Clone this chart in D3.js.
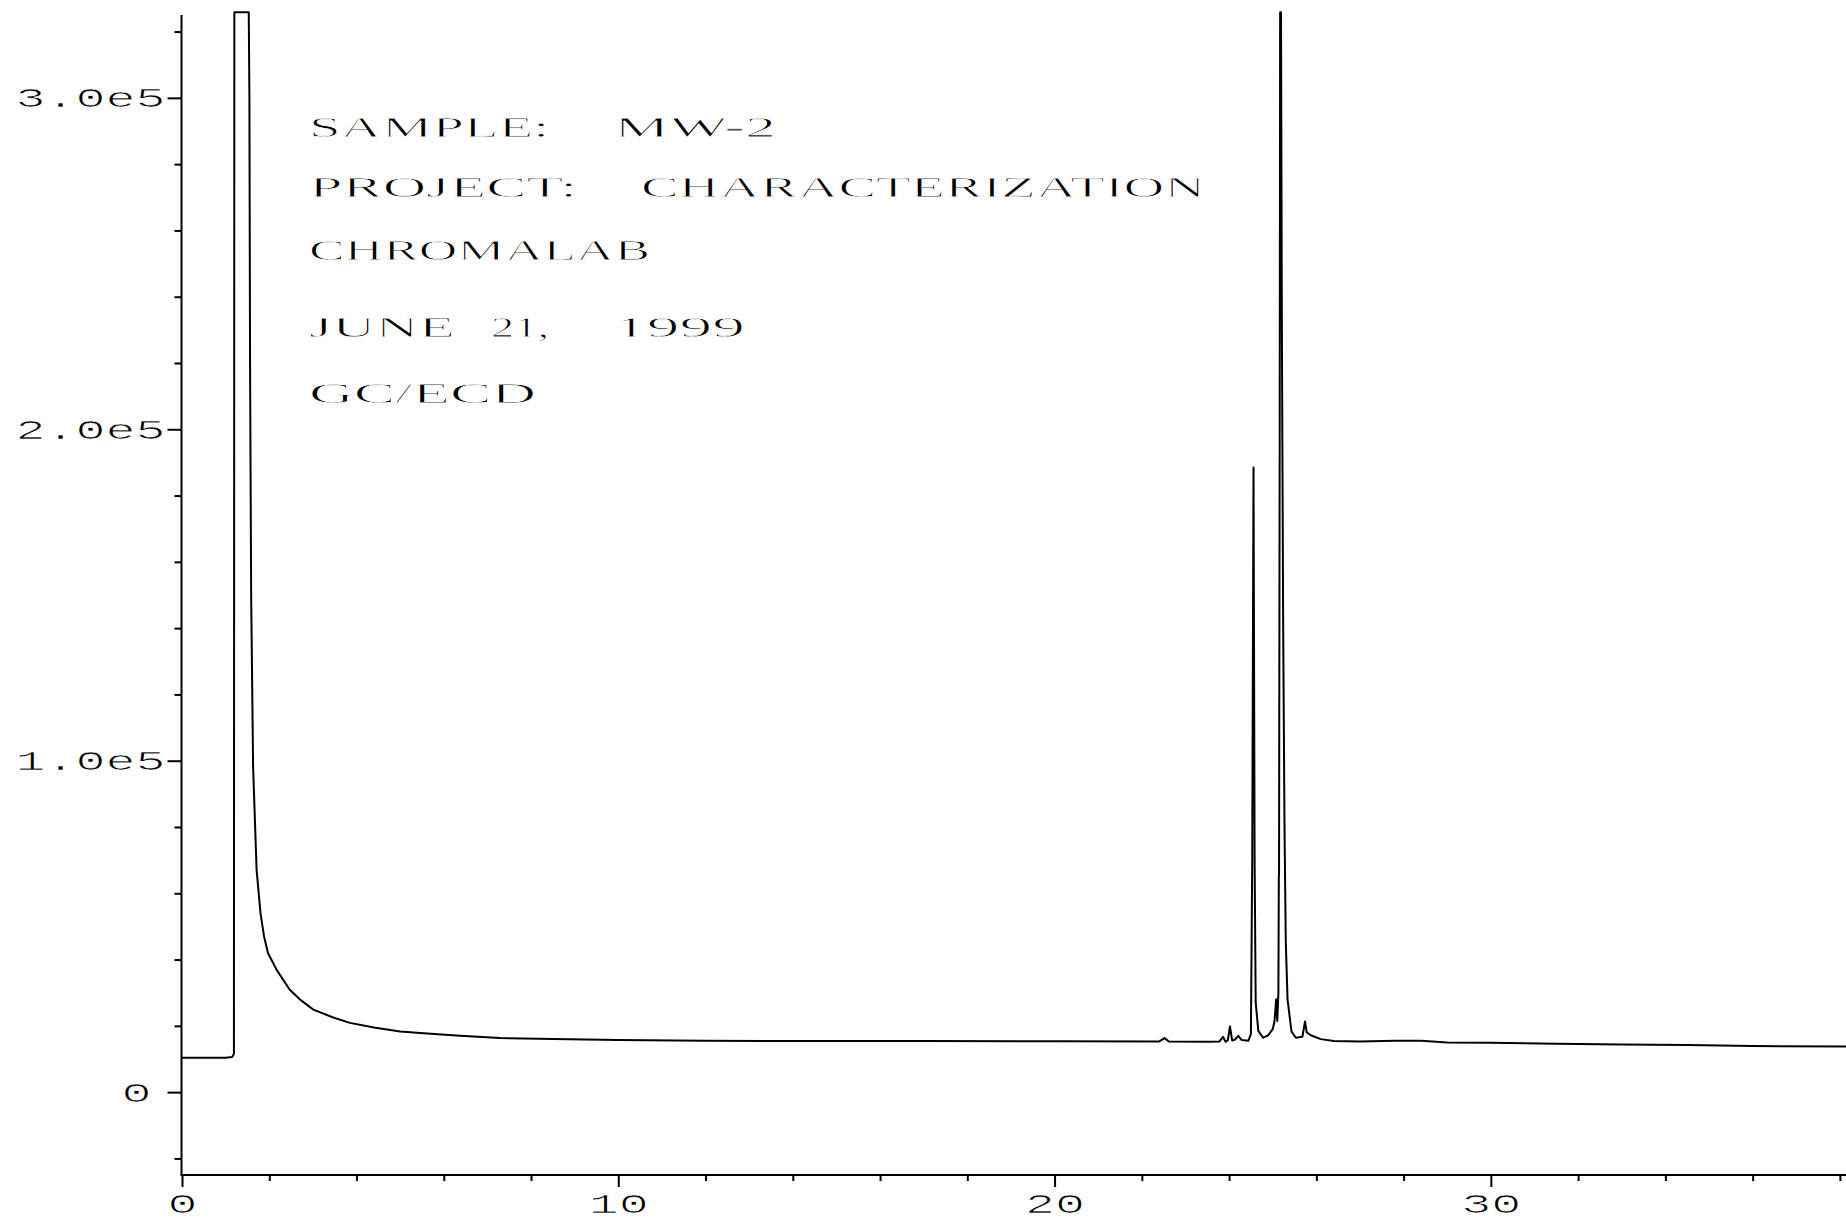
<!DOCTYPE html>
<html><head><meta charset="utf-8">
<script src="https://cdn.jsdelivr.net/npm/d3@7"></script>
<style>html,body{margin:0;padding:0;background:#fff;} svg{display:block;}</style>
</head><body><svg id="chart" width="1846" height="1220"></svg>
<script>
// ---- data ----
const retentionTime = [0, 1.0, 1.15, 1.19, 1.20, 1.53, 1.545, 1.56, 1.585, 1.63, 1.71, 1.80, 1.88, 1.97, 2.17, 2.47, 2.70, 3.01, 3.45, 3.85, 4.40, 5.00, 5.70, 6.37, 7.29, 8.50, 10.0, 12.0, 14.0, 17.0, 20.0, 22.4, 22.52, 22.62, 23.5, 23.78, 23.86, 23.92, 23.97, 24.02, 24.07, 24.13, 24.21, 24.29, 24.44, 24.50, 24.53, 24.56, 24.585, 24.61, 24.67, 24.78, 24.90, 25.00, 25.04, 25.08, 25.105, 25.13, 25.14, 25.145, 25.16, 25.17, 25.19, 25.21, 25.24, 25.27, 25.30, 25.34, 25.43, 25.53, 25.68, 25.74, 25.78, 25.90, 26.10, 26.40, 27.0, 27.8, 28.4, 29.0, 30.0, 31.5, 33.0, 34.5, 36.0, 38.14];
const response = [10400, 10400, 10600, 11500, 325800, 325800, 300000, 220000, 150000, 98000, 67000, 54000, 47000, 42000, 36900, 30900, 28000, 24900, 22600, 20900, 19500, 18300, 17600, 17000, 16300, 16000, 15700, 15500, 15400, 15400, 15350, 15300, 16300, 15300, 15200, 15300, 16700, 15200, 15600, 19800, 15600, 15800, 17000, 15700, 15500, 17500, 70000, 188500, 70000, 27000, 18500, 16400, 17200, 19000, 21300, 28000, 21500, 30000, 65000, 66000, 200000, 325800, 325800, 230000, 140000, 80000, 45000, 28000, 18300, 16400, 16700, 21300, 18000, 17000, 16000, 15400, 15300, 15500, 15500, 15000, 14900, 14600, 14400, 14200, 13900, 13800];

const xTickValues = [0, 10, 20, 30];
const xTickLabels = ["0", "10", "20", "30"];
const xMinorTicks = [2, 4, 6, 8, 12, 14, 16, 18, 22, 24, 26, 28, 32, 34, 36, 38];
const yTickValues = [0, 100000, 200000, 300000];
const yTickLabels = ["0", "1.0e5", "2.0e5", "3.0e5"];
const yMinorTicks = [-20000, 20000, 40000, 60000, 80000, 120000, 140000, 160000, 180000, 220000, 240000, 260000, 280000, 320000];

const annotationTexts = ["SAMPLE:", "MW-2", "PROJECT:", "CHARACTERIZATION", "CHROMALAB", "JUNE", "21,", "1999", "GC/ECD"];

// ---- layout ----
const annotationLayout = [
  {x: 309, y: 137, w: 240}, {x: 614, y: 137, w: 162},
  {x: 309, y: 197, w: 268}, {x: 641, y: 197, w: 564},
  {x: 309, y: 260, w: 341},
  {x: 309, y: 337, w: 146}, {x: 491, y: 337, w: 58}, {x: 614, y: 337, w: 131},
  {x: 309, y: 403, w: 227}
];

const svg = d3.select("#chart");
svg.append("rect").attr("width", 1846).attr("height", 1220).attr("fill", "#fff");

const x = d3.scaleLinear().domain([0, 38.14]).range([182, 1846]);
const y = d3.scaleLinear().domain([-25000, 325000]).range([1175, 15]);

const ink = "#000";

// Y axis
const yG = svg.append("g").attr("transform", `translate(${x(0) - 0.5},0)`);
yG.call(d3.axisLeft(y).tickValues(yMinorTicks).tickSize(7).tickSizeOuter(0).tickFormat(""));
yG.call(g => g.select(".domain").remove());
const yG2 = svg.append("g").attr("transform", `translate(${x(0) - 0.5},0)`);
yG2.call(d3.axisLeft(y).tickValues(yTickValues).tickSize(14).tickSizeOuter(0)
  .tickFormat((d, i) => yTickLabels[i]));
yG2.select(".domain").remove();
svg.selectAll("g .tick line").attr("stroke", ink).attr("stroke-width", 2);
yG2.selectAll(".tick text")
  .attr("x", (d, i) => yTickLabels[i] === "0" ? -30 : -16)
  .attr("dy", "0.33em")
  .attr("font-family", "'Liberation Mono', monospace")
  .attr("font-size", 27)
  .attr("fill", ink)
  .attr("stroke", "#fff").attr("stroke-width", 0.7)
  .attr("text-anchor", "end")
  .attr("textLength", (d, i) => yTickLabels[i].length * 30)
  .attr("lengthAdjust", "spacingAndGlyphs");
svg.append("line").attr("x1", x(0) - 0.5).attr("x2", x(0) - 0.5)
  .attr("y1", y(325000)).attr("y2", y(-25000))
  .attr("stroke", ink).attr("stroke-width", 2);

// X axis
const xG = svg.append("g").attr("transform", `translate(0,${y(-25000)})`);
xG.call(d3.axisBottom(x).tickValues(xMinorTicks).tickSize(6).tickSizeOuter(0).tickFormat(""));
xG.select(".domain").remove();
const xG2 = svg.append("g").attr("transform", `translate(0,${y(-25000)})`);
xG2.call(d3.axisBottom(x).tickValues(xTickValues).tickSize(12).tickSizeOuter(0)
  .tickFormat((d, i) => xTickLabels[i]));
xG2.select(".domain").remove();
svg.selectAll("g .tick line").attr("stroke", ink).attr("stroke-width", 2);
xG2.selectAll(".tick text")
  .attr("y", 38).attr("dy", 0)
  .attr("font-family", "'Liberation Mono', monospace")
  .attr("font-size", 27)
  .attr("fill", ink)
  .attr("stroke", "#fff").attr("stroke-width", 0.7)
  .attr("text-anchor", "middle")
  .attr("textLength", (d, i) => xTickLabels[i].length * 30)
  .attr("lengthAdjust", "spacingAndGlyphs");
svg.append("line").attr("x1", x(0) - 1.5).attr("x2", 1846)
  .attr("y1", y(-25000)).attr("y2", y(-25000))
  .attr("stroke", ink).attr("stroke-width", 2);

// Chromatogram trace
const pts = retentionTime.map((t, i) => [t, response[i]]);
svg.append("path")
  .datum(pts)
  .attr("d", d3.line().x(d => x(d[0])).y(d => y(d[1])))
  .attr("fill", "none")
  .attr("stroke", ink)
  .attr("stroke-width", 2)
  .attr("stroke-linejoin", "round");

// Annotation block
svg.append("g").selectAll("text")
  .data(annotationTexts)
  .join("text")
  .attr("x", (d, i) => annotationLayout[i].x)
  .attr("y", (d, i) => annotationLayout[i].y)
  .attr("textLength", (d, i) => annotationLayout[i].w)
  .attr("lengthAdjust", "spacingAndGlyphs")
  .attr("font-family", "'Liberation Serif', serif")
  .attr("font-size", 30)
  .attr("fill", ink)
  .attr("stroke", "#fff").attr("stroke-width", 0.8)
  .text(d => d);
</script>
</body></html>
